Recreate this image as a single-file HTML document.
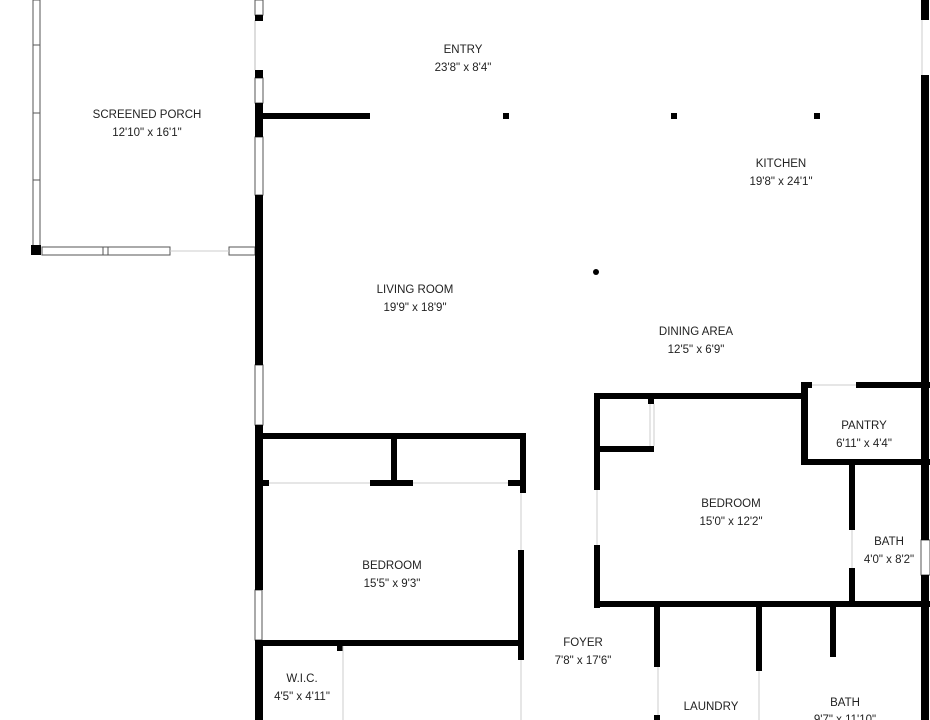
<!DOCTYPE html>
<html><head><style>
html,body{margin:0;padding:0;background:#fff;width:930px;height:720px;overflow:hidden}
text{font-family:"Liberation Sans",sans-serif;font-size:11.5px;fill:#222;text-anchor:middle}
</style></head><body>
<svg width="930" height="720" viewBox="0 0 930 720" xmlns="http://www.w3.org/2000/svg">
<g fill="none" stroke="#555" stroke-width="1">
<rect x="33" y="0" width="7" height="247"/>
<line x1="33" y1="45" x2="40" y2="45"/><line x1="33" y1="113" x2="40" y2="113"/><line x1="33" y1="180" x2="40" y2="180"/>
<rect x="42" y="247" width="128" height="8"/><line x1="103" y1="247" x2="103" y2="255"/><line x1="108" y1="247" x2="108" y2="255"/>
<rect x="229" y="247" width="26" height="8"/>
<line x1="170" y1="251" x2="229" y2="251" stroke="#ccc"/>
<rect x="255" y="0" width="8" height="15"/>
<line x1="255" y1="20" x2="255" y2="70" stroke="#bbb"/>
<rect x="255" y="78" width="8" height="25"/>
<rect x="255" y="137" width="8" height="58"/>
<rect x="255" y="365" width="8" height="60"/>
<rect x="255" y="590" width="7" height="50"/>
<rect x="921" y="540" width="9" height="35"/>
<line x1="922" y1="20" x2="922" y2="75" stroke="#ccc"/>
</g>
<g fill="#000">
<rect x="31" y="245" width="10" height="10"/>
<rect x="255" y="15" width="8" height="6"/>
<rect x="255" y="70" width="8" height="8"/>
<rect x="255" y="103" width="8" height="34"/>
<rect x="255" y="195" width="8" height="170"/>
<rect x="255" y="425" width="8" height="165"/>
<rect x="255" y="640" width="8" height="80"/>
<rect x="263" y="113" width="107" height="6"/>
<rect x="260" y="433" width="266" height="6"/>
<rect x="520" y="433" width="6" height="60"/>
<rect x="391" y="433" width="6" height="50"/>
<rect x="260" y="480" width="9" height="6"/>
<rect x="370" y="480" width="43" height="6"/>
<rect x="508" y="480" width="18" height="6"/>
<rect x="518" y="550" width="6" height="110"/>
<rect x="260" y="640" width="264" height="6"/>
<rect x="337" y="640" width="6" height="11"/>
<rect x="594" y="393" width="214" height="6"/>
<rect x="594" y="393" width="6" height="97"/>
<rect x="594" y="545" width="6" height="63"/>
<rect x="594" y="601" width="336" height="6"/>
<rect x="600" y="446" width="54" height="6"/>
<rect x="648" y="398" width="6" height="6"/>
<rect x="801" y="382" width="7" height="83"/>
<rect x="801" y="382" width="11" height="6"/>
<rect x="856" y="382" width="74" height="6"/>
<rect x="801" y="459" width="129" height="6"/>
<rect x="849" y="463" width="6" height="67"/>
<rect x="849" y="568" width="6" height="35"/>
<rect x="921" y="0" width="8" height="20"/>
<rect x="921" y="75" width="8" height="465"/>
<rect x="921" y="575" width="8" height="145"/>
<rect x="654" y="607" width="6" height="60"/>
<rect x="654" y="715" width="6" height="5"/>
<rect x="756" y="607" width="6" height="64"/>
<rect x="830" y="607" width="6" height="50"/>
<rect x="503" y="113" width="6" height="6"/>
<rect x="671" y="113" width="6" height="6"/>
<rect x="814" y="113" width="6" height="6"/>
<circle cx="596" cy="272" r="3"/>
</g>
<g stroke="#ccc" stroke-width="1">
<line x1="650" y1="404" x2="650" y2="446"/><line x1="654" y1="404" x2="654" y2="446"/>
<line x1="597" y1="490" x2="597" y2="545"/>
<line x1="812" y1="385" x2="856" y2="385"/>
<line x1="852" y1="530" x2="852" y2="568"/>
<line x1="521" y1="493" x2="521" y2="550"/>
<line x1="343" y1="646" x2="343" y2="720"/>
<line x1="521" y1="660" x2="521" y2="720"/>
<line x1="658" y1="667" x2="658" y2="715"/>
<line x1="759" y1="671" x2="759" y2="720"/>
<line x1="269" y1="483" x2="370" y2="483"/><line x1="413" y1="483" x2="508" y2="483"/>
</g>
<text x="463" y="53">ENTRY</text><text x="463" y="71">23'8" x 8'4"</text>
<text x="147" y="118">SCREENED PORCH</text><text x="147" y="136">12'10" x 16'1"</text>
<text x="781" y="167">KITCHEN</text><text x="781" y="185">19'8" x 24'1"</text>
<text x="415" y="293">LIVING ROOM</text><text x="415" y="311">19'9" x 18'9"</text>
<text x="696" y="335">DINING AREA</text><text x="696" y="353">12'5" x 6'9"</text>
<text x="864" y="429">PANTRY</text><text x="864" y="447">6'11" x 4'4"</text>
<text x="731" y="507">BEDROOM</text><text x="731" y="525">15'0" x 12'2"</text>
<text x="889" y="545">BATH</text><text x="889" y="563">4'0" x 8'2"</text>
<text x="392" y="569">BEDROOM</text><text x="392" y="587">15'5" x 9'3"</text>
<text x="583" y="646">FOYER</text><text x="583" y="664">7'8" x 17'6"</text>
<text x="302" y="682">W.I.C.</text><text x="302" y="700">4'5" x 4'11"</text>
<text x="711" y="710">LAUNDRY</text>
<text x="845" y="706">BATH</text><text x="845" y="723">9'7" x 11'10"</text>
</svg>
</body></html>
